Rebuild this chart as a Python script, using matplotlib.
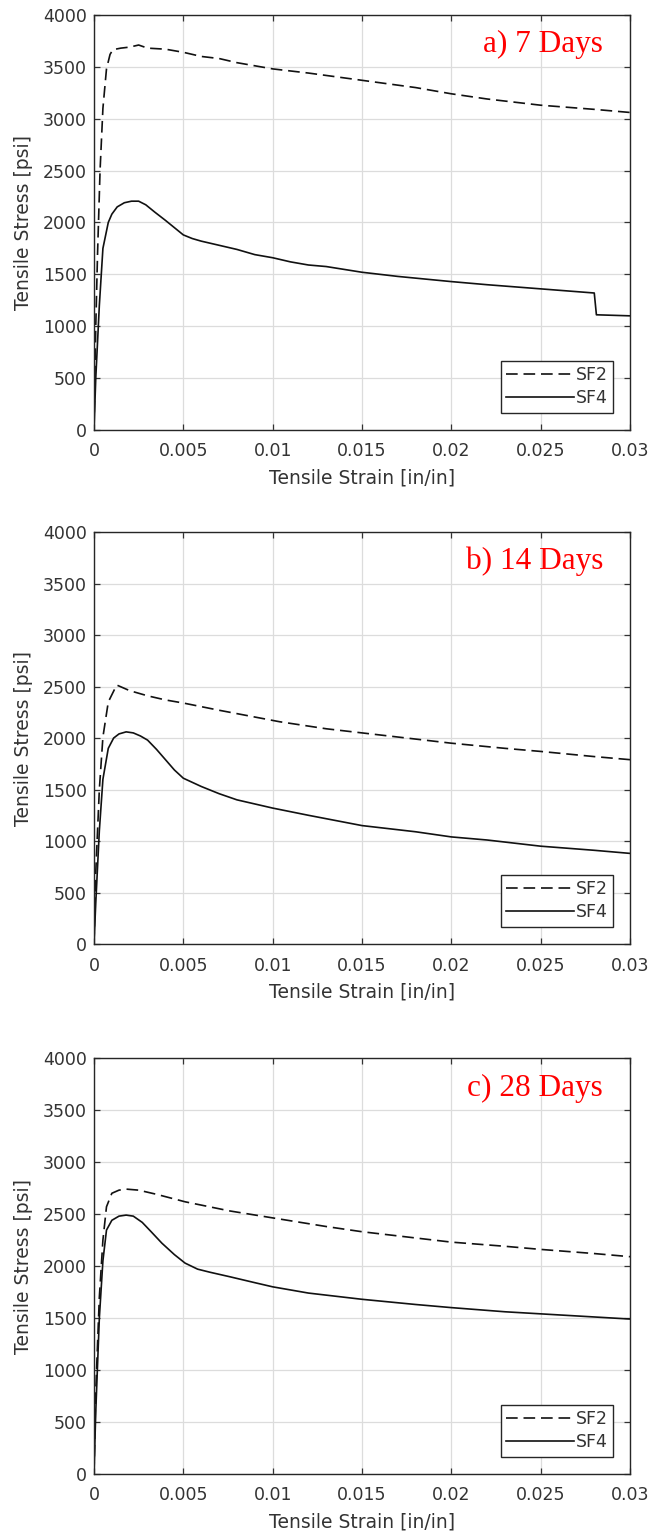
import matplotlib
matplotlib.use("Agg")
import matplotlib.pyplot as plt

# ---- data (strain [in/in], stress [psi]) ----
sf2_7_x = [0, 0.0001, 0.0002, 0.00034, 0.0005, 0.0007, 0.0009, 0.00106, 0.0015, 0.002, 0.0025, 0.003,
           0.004, 0.005, 0.006, 0.007, 0.008, 0.01, 0.012, 0.015, 0.018, 0.02, 0.022, 0.025, 0.028, 0.03]
sf2_7_y = [0, 1000, 1700, 2500, 3100, 3480, 3620, 3665, 3680, 3690, 3710, 3680,
           3670, 3640, 3600, 3580, 3540, 3480, 3440, 3370, 3300, 3240, 3190, 3130, 3090, 3060]
sf4_7_x = [0, 0.0001, 0.0003, 0.0005, 0.0008, 0.001, 0.0013, 0.0017, 0.0021, 0.0025, 0.0029, 0.0034,
           0.004, 0.0045, 0.005, 0.0055, 0.006, 0.007, 0.008, 0.009, 0.01, 0.011, 0.012, 0.013,
           0.015, 0.017, 0.02, 0.022, 0.025, 0.028, 0.02812, 0.03]
sf4_7_y = [0, 500, 1200, 1750, 2000, 2080, 2150, 2190, 2205, 2205, 2170, 2100,
           2020, 1950, 1880, 1845, 1820, 1780, 1740, 1690, 1660, 1620, 1590, 1575,
           1520, 1480, 1430, 1400, 1360, 1320, 1110, 1100]

sf2_14_x = [0, 0.0001, 0.0003, 0.0005, 0.0008, 0.00127, 0.002, 0.003, 0.004, 0.005, 0.007, 0.0104,
            0.013, 0.015, 0.018, 0.02, 0.023, 0.025, 0.028, 0.03]
sf2_14_y = [0, 700, 1500, 2010, 2350, 2515, 2460, 2410, 2370, 2340, 2270, 2158,
            2090, 2050, 1990, 1950, 1900, 1870, 1820, 1790]
sf4_14_x = [0, 0.0001, 0.0003, 0.0005, 0.0008, 0.0011, 0.0014, 0.0018, 0.0022, 0.0026, 0.003, 0.0035,
            0.004, 0.0045, 0.005, 0.006, 0.007, 0.008, 0.01, 0.012, 0.015, 0.018, 0.02, 0.022,
            0.025, 0.028, 0.03]
sf4_14_y = [0, 400, 1100, 1600, 1900, 2000, 2040, 2060, 2050, 2020, 1980, 1890,
            1790, 1690, 1610, 1530, 1460, 1400, 1320, 1250, 1150, 1090, 1040, 1010,
            950, 910, 880]

sf2_28_x = [0, 0.0001, 0.0003, 0.0005, 0.0007, 0.001, 0.0014, 0.0018, 0.0025, 0.0035, 0.0051, 0.0076,
            0.0104, 0.013, 0.015, 0.018, 0.02, 0.023, 0.025, 0.028, 0.03]
sf2_28_y = [0, 800, 1700, 2250, 2570, 2700, 2730, 2740, 2730, 2690, 2618, 2530,
            2452, 2380, 2330, 2270, 2230, 2190, 2160, 2120, 2090]
sf4_28_x = [0, 0.0001, 0.0003, 0.0005, 0.0007, 0.001, 0.0014, 0.0018, 0.0022, 0.0027, 0.0032, 0.0038,
            0.0045, 0.0051, 0.0058, 0.0065, 0.0076, 0.009, 0.01, 0.012, 0.015, 0.018, 0.02,
            0.023, 0.025, 0.028, 0.03]
sf4_28_y = [0, 600, 1500, 2050, 2346, 2440, 2480, 2490, 2480, 2420, 2330, 2220,
            2110, 2028, 1970, 1940, 1897, 1840, 1800, 1740, 1680, 1630, 1600,
            1560, 1540, 1510, 1490]

titles = ["a) 7 Days", "b) 14 Days", "c) 28 Days"]
series = [(sf2_7_x, sf2_7_y, sf4_7_x, sf4_7_y),
          (sf2_14_x, sf2_14_y, sf4_14_x, sf4_14_y),
          (sf2_28_x, sf2_28_y, sf4_28_x, sf4_28_y)]
x_ticks = [0, 0.005, 0.01, 0.015, 0.02, 0.025, 0.03]
x_tick_labels = ["0", "0.005", "0.01", "0.015", "0.02", "0.025", "0.03"]
y_ticks = list(range(0, 4001, 500))

plt.rcParams['font.family'] = ['DejaVu Sans']

fig = plt.figure(figsize=(6.54, 15.4), dpi=100)
positions = [(0.1437, 0.7208, 0.8196, 0.2695),
             (0.1437, 0.3870, 0.8196, 0.2675),
             (0.1437, 0.0429, 0.8196, 0.2700)]

txt_col = '#333333'
for pos, title, (x2, y2, x4, y4) in zip(positions, titles, series):
    ax = fig.add_axes(pos)
    ax.plot(x2, y2, color='#111111', lw=1.2, ls=(0, (7, 3.5)), label='SF2')
    ax.plot(x4, y4, color='#111111', lw=1.2, ls='-', label='SF4')
    ax.set_xlim(0, 0.03)
    ax.set_ylim(0, 4000)
    ax.set_xticks(x_ticks)
    ax.set_xticklabels(x_tick_labels)
    ax.set_yticks(y_ticks)
    ax.grid(True, color='#dcdcdc', lw=0.9)
    ax.set_axisbelow(True)
    ax.tick_params(direction='in', top=True, right=True, length=4, width=0.9,
                   labelsize=12.5, colors=txt_col)
    ax.tick_params(axis='x', pad=9)
    ax.tick_params(axis='y', pad=5)
    for s in ax.spines.values():
        s.set_color('#262626')
        s.set_linewidth(1.0)
    ax.set_xlabel('Tensile Strain [in/in]', fontsize=13.5, color=txt_col, labelpad=6)
    ax.set_ylabel('Tensile Stress [psi]', fontsize=13.5, color=txt_col, labelpad=7)
    ax.text(0.950, 0.928, title, transform=ax.transAxes, ha='right', va='center',
            color='red', fontsize=22.5, family=['Liberation Serif', 'DejaVu Serif'])
    leg = ax.legend(loc='lower right', fontsize=12.5, frameon=True, fancybox=False,
                    edgecolor='#262626', framealpha=1, borderaxespad=1.0,
                    handlelength=3.9, borderpad=0.3, labelspacing=0.3, handletextpad=0.1)
    leg.get_frame().set_linewidth(1.0)
    for t in leg.get_texts():
        t.set_color(txt_col)

fig.savefig('out.png', dpi=100)
